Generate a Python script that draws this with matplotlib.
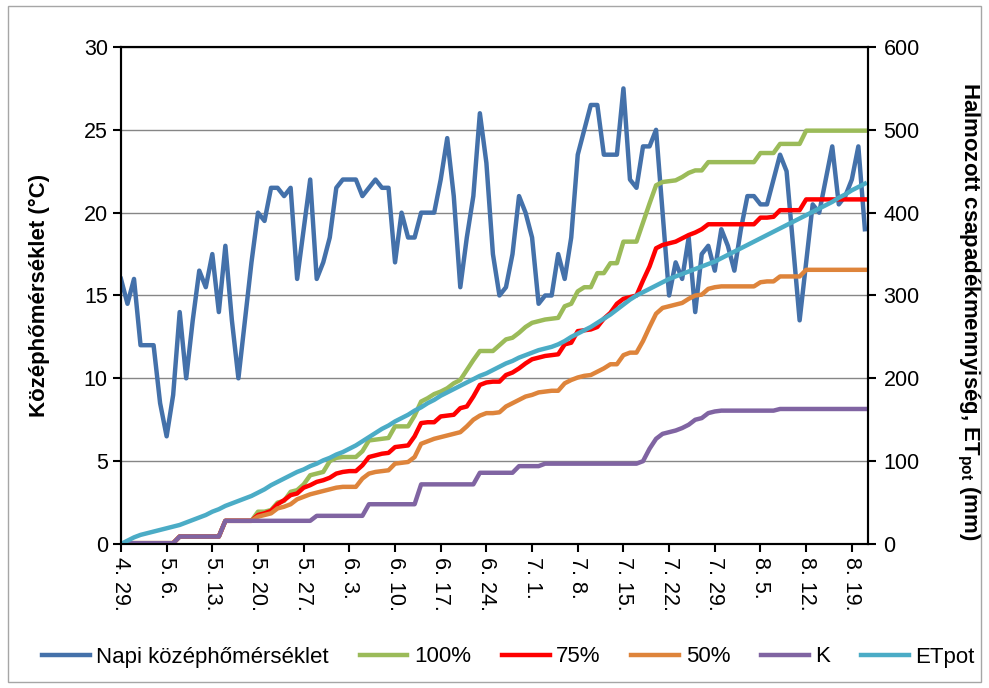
import matplotlib
matplotlib.use("Agg")
import matplotlib.pyplot as plt
import numpy as np
import pandas as pd
from matplotlib.patches import Rectangle

plt.rcParams['font.family'] = ['Liberation Sans', 'DejaVu Sans']
plt.rcParams['mathtext.fontset'] = 'custom'
plt.rcParams['mathtext.rm'] = 'Liberation Sans'
plt.rcParams['mathtext.bf'] = 'Liberation Sans:bold'

# napi középhőmérséklet (°C), 04.29-től naponta
napi_homerseklet = [
    16, 14.5, 16, 12, 12, 12, 8.5, 6.5, 9, 14,
    10, 13.5, 16.5, 15.5, 17.5, 14, 18, 13.5, 10, 13.5,
    17, 20, 19.5, 21.5, 21.5, 21, 21.5, 16, 19, 22,
    16, 17, 18.5, 21.5, 22, 22, 22, 21, 21.5, 22,
    21.5, 21.5, 17, 20, 18.5, 18.5, 20, 20, 20, 22,
    24.5, 21, 15.5, 18.5, 21, 26, 23, 17.5, 15, 15.5,
    17.5, 21, 20, 18.5, 14.5, 15, 15, 17.5, 16, 18.5,
    23.5, 25, 26.5, 26.5, 23.5, 23.5, 23.5, 27.5, 22, 21.5,
    24, 24, 25, 20, 15, 17, 16, 18.5, 14, 17.5,
    18, 16.5, 19, 18, 16.5, 19, 21, 21, 20.5, 20.5,
    22, 23.5, 22.5, 18, 13.5, 17, 20.5, 20, 22, 24,
    20.5, 21, 22, 24, 19,
]

# halmozott csapadék + öntözés (mm)
kozos_kezdet = [0] + [1] * 8 + [9] * 7 + [28] * 5

ontozes_100 = kozos_kezdet + [
    39, 39, 41, 50, 52, 63, 65, 72, 83, 85, 87, 100, 104, 105, 105, 105,
    112, 125, 126, 127, 128, 142, 142, 142, 155, 172, 176, 181, 184, 188, 194, 198,
    210, 222, 233, 233, 233, 240, 247, 249, 255, 262, 267, 269, 271, 272, 273, 287,
    290, 305, 310, 310, 327, 327, 339, 339, 365, 365, 365, 388, 411, 433, 437, 438,
    439, 443, 448, 451, 451, 461,
] + [461] * 7 + [472] * 3 + [483] * 4 + [499] * 10

ontozes_75 = kozos_kezdet + [
    35, 37, 40, 48, 53, 59, 61, 68, 71, 75, 77, 80, 85, 87, 88, 88,
    95, 105, 107, 109, 110, 117, 118, 119, 130, 146, 147, 147, 154, 155, 156, 164,
    166, 178, 192, 195, 196, 196, 204, 207, 212, 218, 223, 225, 227, 228, 229, 241,
    243, 257, 258, 259, 262, 272, 279, 290, 296, 298, 300, 318, 335, 357, 361, 363,
    365, 369, 373, 376, 380, 386,
] + [386] * 7 + [394, 394, 395] + [403] * 4 + [416] * 10

ontozes_50 = kozos_kezdet + [
    33, 35, 37, 43, 45, 48, 54, 57, 60, 62, 64, 66, 68, 69, 69, 69,
    79, 85, 87, 88, 89, 97, 98, 99, 105, 121, 124, 127, 129, 131, 133, 135,
    142, 150, 155, 158, 158, 159, 166, 170, 174, 178, 180, 183, 184, 185, 185, 194,
    198, 201, 203, 204, 208, 212, 217, 217, 228, 231, 231, 245, 262, 278, 285, 287,
    289, 291, 296, 300, 301, 308, 310,
] + [311] * 6 + [316, 317, 317] + [323] * 4 + [331] * 10

kontroll = ([0] + [1] * 8 + [9] * 7 + [28] * 14 + [34] * 8 + [48] * 8 + [72] * 9
            + [86] * 6 + [94] * 4 + [97] * 15
            + [100, 115, 127, 133, 135, 137, 140, 144, 150, 152, 158, 160]
            + [161] * 9 + [163] * 14)

et_pot = [
    0, 4, 8, 11, 13, 15, 17, 19, 21, 23,
    26, 29, 32, 35, 39, 42, 46, 49, 52, 55,
    58, 62, 66, 71, 75, 79, 83, 87, 90, 94,
    97, 101, 104, 108, 111, 115, 119, 124, 129, 134,
    139, 143, 148, 152, 156, 161, 165, 170, 174, 179,
    183, 187, 191, 195, 199, 203, 206, 210, 214, 218,
    221, 225, 228, 231, 234, 236, 238, 241, 245, 250,
    254, 258, 262, 267, 272, 277, 283, 289, 295, 300,
    304, 308, 312, 316, 320, 323, 326, 329, 332, 335,
    338, 341, 345, 349, 353, 357, 361, 365, 369, 373,
    377, 381, 385, 389, 393, 397, 401, 405, 409, 413,
    418, 422, 427, 431, 435,
]

dates = pd.date_range('2013-04-29', periods=len(napi_homerseklet), freq='D')
x = np.arange(len(dates))

fig = plt.figure(figsize=(9.89, 6.88), dpi=100)
ax = fig.add_axes([0.1223, 0.2093, 0.7555, 0.7224])

ax.plot(x, napi_homerseklet, color='#4471AA', lw=3.2, solid_joinstyle='round',
        label='Napi középhőmérséklet')
ax.set_ylim(0, 30)
ax.set_yticks(range(0, 31, 5))
ax.set_xlim(0, 114.5)
ax.set_xticks(x[::7])
ax.set_xticklabels([f"{d.month}. {d.day}." for d in dates[::7]], rotation=-90)
ax.grid(axis='y', color='#868686', lw=1)
ax.set_axisbelow(True)
ax.tick_params(axis='both', labelsize=15.5, length=6, width=1.5, color='black')
ax.set_ylabel('Középhőmérséklet (°C)', fontsize=16, fontweight='bold')
ax.yaxis.set_label_coords(-0.095, 0.5)

ax2 = ax.twinx()
sorozatok = [
    (ontozes_100, '#9BBB59', '100%'),
    (ontozes_75, '#FF0000', '75%'),
    (ontozes_50, '#DE843B', '50%'),
    (kontroll, '#8064A2', 'K'),
    (et_pot, '#4BACC6', 'ETpot'),
]
for vals, szin, nev in sorozatok:
    ax2.plot(x, vals, color=szin, lw=3.2, solid_joinstyle='round', label=nev)
ax2.set_ylim(0, 600)
ax2.set_yticks(range(0, 601, 100))
ax2.tick_params(axis='y', labelsize=15.5, length=6, width=1.5, color='black', pad=5)
ax2.set_ylabel(r'Halmozott csapadékmennyiség, ET$_{\mathbf{pot}}$ (mm)',
               fontsize=16, fontweight='bold', rotation=270, va='center', ha='center')
ax2.yaxis.set_label_coords(1.134, 0.468)

for a in (ax, ax2):
    for s in a.spines.values():
        s.set_color('black')
        s.set_linewidth(1.5)

h1, l1 = ax.get_legend_handles_labels()
h2, l2 = ax2.get_legend_handles_labels()
fig.legend(h1 + h2, l1 + l2, loc='center', bbox_to_anchor=(0.514, 1 - 657 / 688),
           ncol=6, frameon=False, fontsize=16, handlelength=2.15,
           handletextpad=0.3, columnspacing=1.38)

fig.add_artist(Rectangle((0.008, 0.008), 0.984, 0.984, transform=fig.transFigure,
                         fill=False, edgecolor='#a6a6a6', lw=1))

fig.savefig('out.png', dpi=100)
